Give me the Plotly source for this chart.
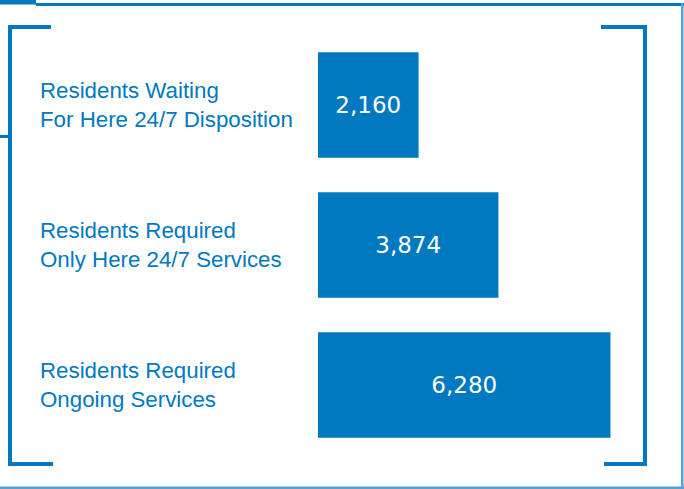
import plotly.graph_objects as go

categories = ["Residents Waiting<br>For Here 24/7 Disposition",
              "Residents Required<br>Only Here 24/7 Services",
              "Residents Required<br>Ongoing Services"]
values = [2160, 3874, 6280]

BLUE = "#0079C1"
LIGHT = "#4FA3D8"

W, H = 684, 489
L, R, T, B = 318, 40, 35, 34
PW, PH = W - L - R, H - T - B


def px(x):
    return (x - L) / PW


def py(y):
    return 1 - (y - T) / PH


fig = go.Figure(go.Bar(
    x=values, y=categories, orientation="h",
    marker=dict(color=BLUE, line=dict(width=0)),
    width=0.755,
    texttemplate="%{x:,}", textposition="inside", insidetextanchor="middle",
    textfont=dict(family="DejaVu Sans", size=23, color="white"),
    hoverinfo="skip",
))


def rect(x0, y0, x1, y1, color=BLUE):
    return dict(type="rect", xref="paper", yref="paper",
                x0=px(x0), x1=px(x1), y0=py(y0), y1=py(y1),
                fillcolor=color, line=dict(width=0), layer="above")


shapes = [
    # top-left tab and frame
    rect(0, 0, 36, 4.5),
    rect(36, 3, 684, 6),
    rect(681, 3, 683.5, 489, LIGHT),
    rect(0, 486.5, 684, 489, LIGHT),
    # left bracket
    rect(8, 25, 12, 466),
    rect(8, 25, 51, 29),
    rect(8, 462, 53, 466),
    rect(0, 135, 8, 138),
    # right bracket
    rect(643, 25, 647, 466),
    rect(601, 25, 647, 29),
    rect(604, 462, 647, 466),
]

annotations = [
    dict(x=px(38), xref="paper", y=c, yref="y", text=c, showarrow=False,
         xanchor="left", yanchor="middle", align="left",
         font=dict(family="Liberation Sans", size=22.3, color=BLUE))
    for c in categories
]

fig.update_layout(
    width=W, height=H,
    margin=dict(l=L, r=R, t=T, b=B, pad=0),
    paper_bgcolor="white", plot_bgcolor="white",
    showlegend=False,
    xaxis=dict(range=[0, 7000], visible=False, fixedrange=True),
    yaxis=dict(categoryorder="array", categoryarray=categories,
               range=[2.5, -0.5], visible=False, fixedrange=True),
    shapes=shapes,
    annotations=annotations,
)

fig.write_html("out.html", config={"displayModeBar": False},
               post_script="document.body.style.margin='0';document.body.style.overflow='hidden';")
